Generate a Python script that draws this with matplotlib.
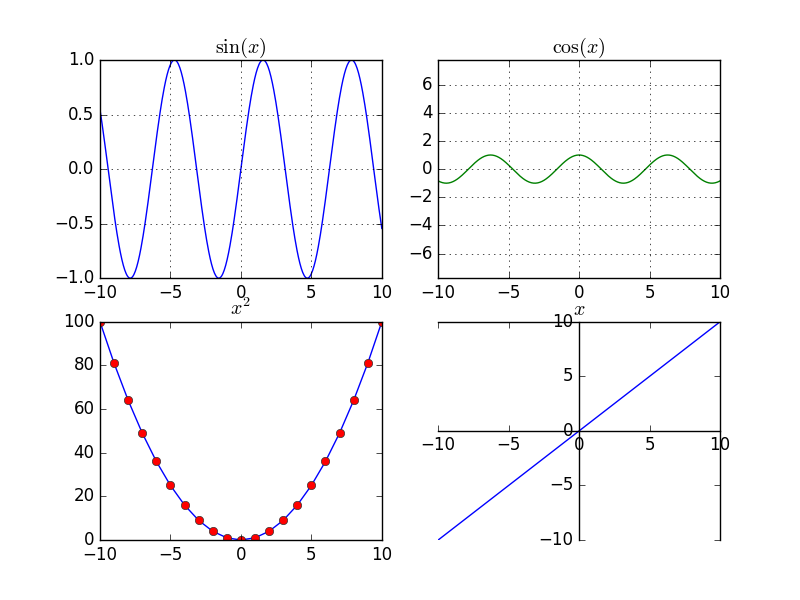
import numpy as np
import matplotlib
matplotlib.use('Agg')
import matplotlib.pyplot as plt

plt.style.use('classic')

# smooth curves for sin / cos
x_smooth = np.linspace(-10, 10, 400)
sin_vals = np.sin(x_smooth)
cos_vals = np.cos(x_smooth)

# x^2 sampled at integers
x_int = [-10, -9, -8, -7, -6, -5, -4, -3, -2, -1, 0, 1, 2, 3, 4, 5, 6, 7, 8, 9, 10]
x_sq = [100, 81, 64, 49, 36, 25, 16, 9, 4, 1, 0, 1, 4, 9, 16, 25, 36, 49, 64, 81, 100]

# identity line
x_line = [-10, 10]
y_line = [-10, 10]

fig = plt.figure(figsize=(8, 6), dpi=100)

ax1 = fig.add_subplot(2, 2, 1)
ax1.plot(x_smooth, sin_vals, 'b-')
ax1.set_title(r'$\sin(x)$')
ax1.grid(True)

ax2 = fig.add_subplot(2, 2, 2)
ax2.plot(x_smooth, cos_vals, 'g-')
ax2.set_title(r'$\cos(x)$')
ax2.axis('equal')
ax2.set_xlim(-10, 10)
ax2.grid(True)

ax3 = fig.add_subplot(2, 2, 3)
ax3.plot(x_int, x_sq, 'b-o', mfc='r', mec='#333333')
ax3.set_title(r'$x^2$')

ax4 = fig.add_subplot(2, 2, 4)
ax4.plot(x_line, y_line, 'b-')
ax4.set_title(r'$x$')
ax4.spines['left'].set_position('zero')
ax4.spines['bottom'].set_position('zero')

fig.savefig('out.png', dpi=100)
